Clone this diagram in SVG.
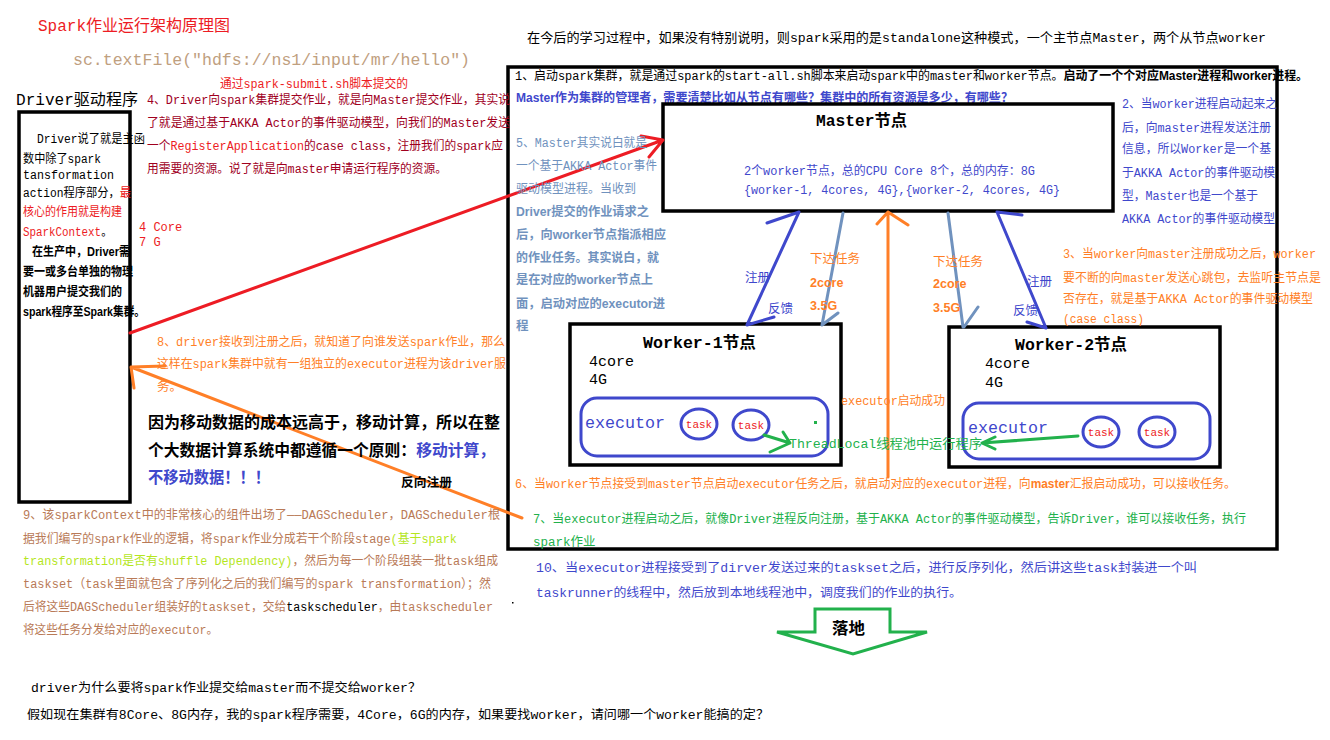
<svg xmlns="http://www.w3.org/2000/svg" width="1330" height="740" viewBox="0 0 1330 740">
<style>
text{font-family:"Liberation Mono","Noto Sans CJK SC",monospace;font-size:12.5px}
.s{font-family:"Liberation Sans","Noto Sans CJK SC",sans-serif}
.b{font-weight:bold}
.box{fill:none;stroke:#000;stroke-width:3.5}
.exe{fill:none;stroke:#3f48cc;stroke-width:3}
.tc{fill:#fff;stroke:#3f48cc;stroke-width:3}
.task{fill:#ed1c24;font-size:11px;text-anchor:middle}
.ln{fill:none;stroke-width:3;stroke-linecap:round;stroke-linejoin:round}
.red{fill:#ed1c24}.dred{fill:#a0001e}.org{fill:#ff7f27}.grn{fill:#22b14c}.blu{fill:#3f48cc}.gb{fill:#7092be}.brn{fill:#b97a57}.lime{fill:#b5e61d}.blk{fill:#000}
</style>
<rect width="1330" height="740" fill="#fff"/>

<!-- headings -->
<g id="title">
<text x="38" y="31" class="red" style="font-size:16px" textLength="192" lengthAdjust="spacingAndGlyphs">Spark作业运行架构原理图</text>
<text x="73" y="65" style="font-size:16.5px;fill:#bfa07f" textLength="397" lengthAdjust="spacingAndGlyphs">sc.textFile("hdfs://ns1/input/mr/hello")</text>
<text x="220" y="87.5" class="red" textLength="188" lengthAdjust="spacingAndGlyphs">通过spark-submit.sh脚本提交的</text>
<text x="527" y="41.5" style="font-size:13px" textLength="739" lengthAdjust="spacingAndGlyphs">在今后的学习过程中，如果没有特别说明，则spark采用的是standalone这种模式，一个主节点Master，两个从节点worker</text>
</g>

<!-- cluster frame -->
<g id="cluster">
<rect class="box" x="508" y="67" width="769" height="482"/>
<text x="515" y="79.5" textLength="793" lengthAdjust="spacingAndGlyphs">1、启动spark集群，就是通过spark的start-all.sh脚本来启动spark中的master和worker节点。<tspan class="s b">启动了一个个对应Master进程和worker进程。</tspan></text>
<text x="516" y="101.5" class="s b blu" textLength="497" lengthAdjust="spacingAndGlyphs">Master作为集群的管理者，需要清楚比如从节点有哪些？集群中的所有资源是多少，有哪些？</text>
</g>

<!-- driver -->
<g id="driver">
<text x="16" y="105" style="font-size:16px" textLength="122" lengthAdjust="spacingAndGlyphs">Driver驱动程序</text>
<rect class="box" x="19" y="112" width="111" height="390"/>
<g style="font-size:11.5px">
<text x="37" y="142.5" textLength="108" lengthAdjust="spacingAndGlyphs">Driver说了就是主函</text>
<text x="23" y="162.5" textLength="78" lengthAdjust="spacingAndGlyphs">数中除了spark</text>
<text x="23" y="178.5" textLength="91" lengthAdjust="spacingAndGlyphs">tansformation</text>
<text x="23" y="196.5" textLength="108" lengthAdjust="spacingAndGlyphs">action程序部分，<tspan class="red">最</tspan></text>
<text x="23" y="215.5" class="red" textLength="99" lengthAdjust="spacingAndGlyphs">核心的作用就是构建</text>
<text x="23" y="236" class="red" textLength="89" lengthAdjust="spacingAndGlyphs">SparkContext<tspan class="blk">。</tspan></text>
<text x="32" y="256" class="s b" textLength="98" lengthAdjust="spacingAndGlyphs">在生产中，Driver需</text>
<text x="23" y="276" class="s b" textLength="110" lengthAdjust="spacingAndGlyphs">要一或多台单独的物理</text>
<text x="23" y="296" class="s b" textLength="99" lengthAdjust="spacingAndGlyphs">机器用户提交我们的</text>
<text x="23" y="316" class="s b" textLength="122" lengthAdjust="spacingAndGlyphs">spark程序至Spark集群。</text>
</g>
<text x="139" y="230.5" class="red" style="font-size:12px">4 Core</text>
<text x="139" y="246" class="red" style="font-size:12px">7 G</text>
</g>

<!-- master -->
<g id="master">
<rect class="box" x="663" y="104" width="450" height="107"/>
<text x="816" y="126" class="b" style="font-size:16px" textLength="91" lengthAdjust="spacingAndGlyphs">Master节点</text>
<text x="744" y="174.5" class="blu" style="font-size:12px" textLength="291" lengthAdjust="spacingAndGlyphs">2个worker节点，总的CPU Core 8个，总的内存：8G</text>
<text x="744" y="193.5" class="blu" style="font-size:12px" textLength="316" lengthAdjust="spacingAndGlyphs">{worker-1, 4cores, 4G},{worker-2, 4cores, 4G}</text>
</g>

<!-- worker 1 -->
<g id="worker1">
<rect class="box" x="570" y="324" width="271" height="141"/>
<text x="643" y="347.5" class="b" style="font-size:16px" textLength="113" lengthAdjust="spacingAndGlyphs">Worker-1节点</text>
<text x="589" y="366" style="font-size:15px">4core</text>
<text x="589" y="384" style="font-size:15px">4G</text>
<rect class="exe" x="581" y="398" width="247" height="58" rx="16"/>
<text x="585" y="427.5" class="blu" style="font-size:16px" textLength="80" lengthAdjust="spacingAndGlyphs">executor</text>
<ellipse class="tc" cx="699" cy="424" rx="18" ry="15"/>
<text class="task" x="699" y="428">task</text>
<ellipse class="tc" cx="751" cy="425" rx="18" ry="15"/>
<text class="task" x="751" y="429">task</text>
<rect x="814" y="421" width="3" height="3" fill="#22b14c"/>
</g>

<!-- worker 2 -->
<g id="worker2">
<rect class="box" x="949" y="327" width="271" height="140"/>
<text x="1015" y="349.5" class="b" style="font-size:16px" textLength="112" lengthAdjust="spacingAndGlyphs">Worker-2节点</text>
<text x="985" y="368" style="font-size:15px">4core</text>
<text x="985" y="387" style="font-size:15px">4G</text>
<rect class="exe" x="963" y="403" width="247" height="56" rx="16"/>
<text x="968" y="432.5" class="blu" style="font-size:16px" textLength="80" lengthAdjust="spacingAndGlyphs">executor</text>
<ellipse class="tc" cx="1101" cy="432" rx="18" ry="15"/>
<text class="task" x="1101" y="436">task</text>
<ellipse class="tc" cx="1157" cy="432" rx="18" ry="15"/>
<text class="task" x="1157" y="436">task</text>
</g>

<!-- connectors -->
<g id="connectors">
<path class="ln" stroke="#ed1c24" d="M130,333 L663,140 M641,136 L663,140 L649,157"/>
<path class="ln" stroke="#ff7f27" d="M522,518 L131,367 M165,366 L131,367 L134,388"/>
<path class="ln" stroke="#3f48cc" d="M747,325 L799,212 M767,223 L799,212 M774,317 L747,325"/>
<path class="ln" stroke="#7092be" d="M843,213 L822,325 M838,313 L822,325"/>
<path class="ln" stroke="#ff7f27" d="M888,477 L888,212 M877,224 L888,212 L908,225"/>
<path class="ln" stroke="#7092be" d="M948,213 L963,327 M978,307 L964,327"/>
<path class="ln" stroke="#3f48cc" d="M997,212 L1046,328 M1022,215 L997,212 M1027,322 L1046,328"/>
<path class="ln" stroke="#22b14c" d="M764,435 L790,443 M783,432 L790,443 L770,452"/>
<path class="ln" stroke="#22b14c" d="M1078,436 L982,443 M995,437 L982,443 L995,449"/>
</g>

<!-- connector labels -->
<g id="labels" class="s" style="font-size:12px">
<text x="745" y="281.5" class="s blu">注册</text>
<text x="768" y="312.5" class="s blu">反馈</text>
<text x="810" y="262.5" class="s org">下达任务</text>
<text x="810" y="286.5" class="s b org">2core</text>
<text x="810" y="309.5" class="s b org">3.5G</text>
<text x="933" y="265.5" class="s org">下达任务</text>
<text x="933" y="287.5" class="s b org">2core</text>
<text x="933" y="311.5" class="s b org">3.5G</text>
<text x="1027" y="285.5" class="s blu">注册</text>
<text x="1013" y="314.5" class="s blu">反馈</text>
<text x="841" y="404.5" class="org" style="font-size:12px" textLength="104" lengthAdjust="spacingAndGlyphs">executor启动成功</text>
<text x="789" y="447.5" class="grn" style="font-size:13px" textLength="193" lengthAdjust="spacingAndGlyphs">ThreadLocal线程池中运行程序</text>
<text x="401" y="486.5" class="s b" style="font-size:12.5px" textLength="51" lengthAdjust="spacingAndGlyphs">反向注册</text>
</g>

<!-- note 4 -->
<g id="note4" class="dred">
<text x="147" y="103.5" textLength="363" lengthAdjust="spacingAndGlyphs">4、Driver向spark集群提交作业，就是向Master提交作业，其实说</text>
<text x="147" y="126.5" textLength="363" lengthAdjust="spacingAndGlyphs">了就是通过基于AKKA Actor的事件驱动模型，向我们的Master发送</text>
<text x="147" y="149.5" textLength="356" lengthAdjust="spacingAndGlyphs">一个<tspan class="red">RegisterApplication</tspan>的case class，注册我们的spark应</text>
<text x="147" y="172.5" textLength="300" lengthAdjust="spacingAndGlyphs">用需要的资源。说了就是向master申请运行程序的资源。</text>
</g>

<!-- note 5 -->
<g id="note5" class="gb">
<text x="516" y="146.5" textLength="131" lengthAdjust="spacingAndGlyphs">5、Master其实说白就是</text>
<text x="516" y="169.5" textLength="141" lengthAdjust="spacingAndGlyphs">一个基于AKKA Actor事件</text>
<text x="516" y="192.5" textLength="120" lengthAdjust="spacingAndGlyphs">驱动模型进程。当收到</text>
<text x="516" y="215.5" class="s b" textLength="133" lengthAdjust="spacingAndGlyphs">Driver提交的作业请求之</text>
<text x="516" y="238.5" class="s b" textLength="150" lengthAdjust="spacingAndGlyphs">后，向worker节点指派相应</text>
<text x="516" y="261.5" class="s b" textLength="143" lengthAdjust="spacingAndGlyphs">的作业任务。其实说白，就</text>
<text x="516" y="283.5" class="s b" textLength="137" lengthAdjust="spacingAndGlyphs">是在对应的worker节点上</text>
<text x="516" y="307.5" class="s b" textLength="149" lengthAdjust="spacingAndGlyphs">面，启动对应的executor进</text>
<text x="516" y="329.5" class="s b">程</text>
</g>

<!-- note 2 -->
<g id="note2" class="blu">
<text x="1122" y="107.5" textLength="155" lengthAdjust="spacingAndGlyphs">2、当worker进程启动起来之</text>
<text x="1122" y="131.5" textLength="149" lengthAdjust="spacingAndGlyphs">后，向master进程发送注册</text>
<text x="1122" y="152.5" textLength="149" lengthAdjust="spacingAndGlyphs">信息，所以Worker是一个基</text>
<text x="1122" y="176.5" textLength="153" lengthAdjust="spacingAndGlyphs">于AKKA Actor的事件驱动模</text>
<text x="1122" y="199.5" textLength="136" lengthAdjust="spacingAndGlyphs">型，Master也是一个基于</text>
<text x="1122" y="222.5" textLength="153" lengthAdjust="spacingAndGlyphs">AKKA Actor的事件驱动模型</text>
</g>

<!-- note 3 -->
<g id="note3" class="org">
<text x="1063" y="257.5" textLength="253" lengthAdjust="spacingAndGlyphs">3、当worker向master注册成功之后，worker</text>
<text x="1063" y="281.5" textLength="258" lengthAdjust="spacingAndGlyphs">要不断的向master发送心跳包，去监听主节点是</text>
<text x="1063" y="302.5" textLength="250" lengthAdjust="spacingAndGlyphs">否存在，就是基于AKKA Actor的事件驱动模型</text>
<text x="1063" y="322.5" textLength="81" lengthAdjust="spacingAndGlyphs">(case class)</text>
</g>

<!-- note 8 -->
<g id="note8" class="org">
<text x="157" y="345.5" textLength="348" lengthAdjust="spacingAndGlyphs">8、driver接收到注册之后，就知道了向谁发送spark作业，那么</text>
<text x="157" y="367.5" textLength="349" lengthAdjust="spacingAndGlyphs">这样在spark集群中就有一组独立的executor进程为该driver服</text>
<text x="157" y="390.5">务。</text>
</g>

<!-- principle -->
<g id="principle" class="s b" style="font-size:16px">
<text x="148" y="428" class="s b" style="font-size:16px" textLength="352" lengthAdjust="spacingAndGlyphs">因为移动数据的成本远高于，移动计算，所以在整</text>
<text x="148" y="456" class="s b" style="font-size:16px" textLength="347" lengthAdjust="spacingAndGlyphs">个大数据计算系统中都遵循一个原则：<tspan class="blu">移动计算，</tspan></text>
<text x="148" y="483" class="s b blu" style="font-size:16px" textLength="122" lengthAdjust="spacingAndGlyphs">不移动数据！！！</text>
</g>

<!-- notes 6 7 10 -->
<g id="note6" class="org">
<text x="515" y="487.5" textLength="721" lengthAdjust="spacingAndGlyphs">6、当worker节点接受到master节点启动executor任务之后，就启动对应的executor进程，向<tspan class="s b">master</tspan>汇报启动成功，可以接收任务。</text>
</g>
<g id="note7" class="grn">
<text x="533" y="522.5" textLength="713" lengthAdjust="spacingAndGlyphs">7、当executor进程启动之后，就像Driver进程反向注册，基于AKKA Actor的事件驱动模型，告诉Driver，谁可以接收任务，执行</text>
<text x="533" y="545.5">spark作业</text>
</g>
<g id="note10" class="blu">
<text x="536" y="571.5" textLength="661" lengthAdjust="spacingAndGlyphs">10、当executor进程接受到了dirver发送过来的taskset之后，进行反序列化，然后讲这些task封装进一个叫</text>
<text x="536" y="596.5" textLength="426" lengthAdjust="spacingAndGlyphs">taskrunner的线程中，然后放到本地线程池中，调度我们的作业的执行。</text>
</g>
<rect x="512" y="602" width="1.5" height="1.5" fill="#000"/>

<!-- landing arrow -->
<g id="landing">
<polygon points="815,609 890,609 890,632 927,632 853,654 777,632 815,632" fill="#fff" stroke="#22b14c" stroke-width="3" stroke-linejoin="miter"/>
<text x="832" y="634" class="s b" style="font-size:16px" textLength="33" lengthAdjust="spacingAndGlyphs">落地</text>
</g>

<!-- note 9 -->
<g id="note9" class="brn">
<text x="23" y="518.5" textLength="477" lengthAdjust="spacingAndGlyphs">9、该sparkContext中的非常核心的组件出场了——DAGScheduler，DAGScheduler根</text>
<text x="23" y="542.5" textLength="434" lengthAdjust="spacingAndGlyphs">据我们编写的spark作业的逻辑，将spark作业分成若干个阶段stage<tspan class="lime">(基于spark</tspan></text>
<text x="23" y="564.5" textLength="475" lengthAdjust="spacingAndGlyphs"><tspan class="lime">transformation是否有shuffle Dependency)</tspan>，然后为每一个阶段组装一批task组成</text>
<text x="23" y="587.5" textLength="468" lengthAdjust="spacingAndGlyphs">taskset（task里面就包含了序列化之后的我们编写的spark transformation）；然</text>
<text x="23" y="610.5" textLength="470" lengthAdjust="spacingAndGlyphs">后将这些DAGScheduler组装好的taskset，交给<tspan class="blk">taskscheduler</tspan>，由taskscheduler</text>
<text x="23" y="633.5" textLength="195" lengthAdjust="spacingAndGlyphs">将这些任务分发给对应的executor。</text>
</g>

<!-- bottom questions -->
<g id="questions">
<text x="31" y="691.5" textLength="390" lengthAdjust="spacingAndGlyphs">driver为什么要将spark作业提交给master而不提交给worker？</text>
<text x="27" y="718.5" textLength="742" lengthAdjust="spacingAndGlyphs">假如现在集群有8Core、8G内存，我的spark程序需要，4Core，6G的内存，如果要找worker，请问哪一个worker能搞的定？</text>
</g>
</svg>
